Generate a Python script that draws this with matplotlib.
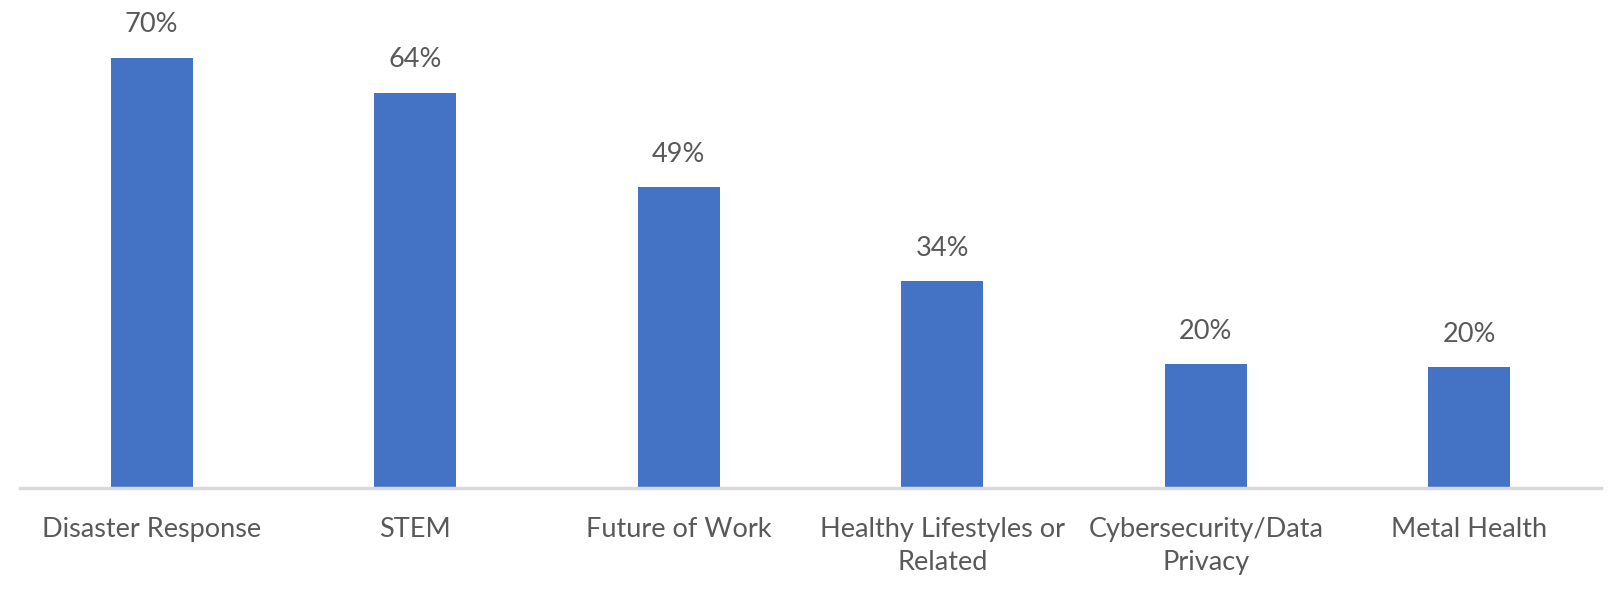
import numpy as np
import matplotlib
matplotlib.use('Agg')
import matplotlib.pyplot as plt

# topic shares
topics = ['Disaster Response', 'STEM', 'Future of Work',
          'Healthy Lifestyles or\nRelated', 'Cybersecurity/Data\nPrivacy', 'Metal Health']
share = [0.700, 0.643, 0.490, 0.337, 0.202, 0.196]

bar_color = '#4472C4'
text_color = '#595959'

plt.rcParams['font.family'] = ['Lato', 'DejaVu Sans']

fig = plt.figure(figsize=(16.16, 5.99), dpi=100)
ax = fig.add_axes([20 / 1616, 111 / 599, 1581 / 1616, 488 / 599])

x = np.arange(len(topics))
bars = ax.bar(x, share, width=0.31, color=bar_color, zorder=2)

for rect, v in zip(bars, share):
    ax.annotate('{:.0%}'.format(v), (rect.get_x() + rect.get_width() / 2, v),
                xytext=(0, 14.5), textcoords='offset points',
                ha='center', va='bottom', fontsize=19.5, color=text_color)

ax.set_xlim(-0.5, len(topics) - 0.5)
ax.set_ylim(0, 488 / 615)
ax.set_xticks(x)
ax.set_xticklabels(topics, fontsize=19.5, color=text_color, linespacing=1.4)
ax.tick_params(axis='x', length=0, pad=21)
ax.set_yticks([])

for side in ['top', 'left', 'right']:
    ax.spines[side].set_visible(False)
ax.spines['bottom'].set_color('#D9D9D9')
ax.spines['bottom'].set_linewidth(2.5)

fig.savefig('out.png', dpi=100)
